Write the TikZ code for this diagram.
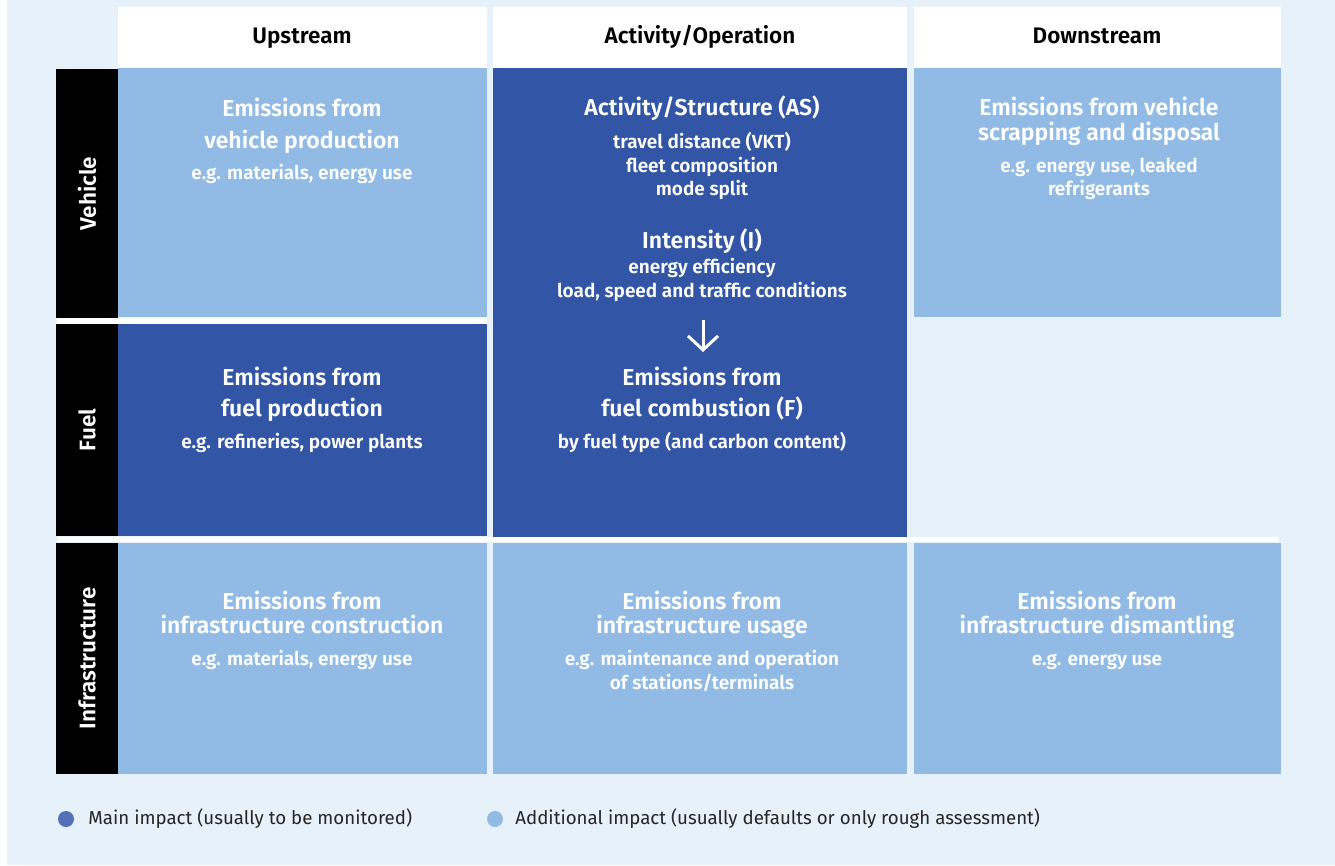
\documentclass[tikz,border=0pt]{standalone}
\usepackage{fontspec}
\setmainfont{Fira Sans}[BoldFont={Fira Sans SemiBold}]
\usetikzlibrary{positioning,arrows.meta}
\definecolor{bgblue}{HTML}{E7F1FA}
\definecolor{darkbox}{HTML}{3256A5}
\definecolor{lightbox}{HTML}{91BBE5}
\definecolor{maindot}{HTML}{5470B9}
\tikzset{
  cell/.style={anchor=north west, inner sep=0pt, outer sep=0pt},
  headcell/.style={cell, fill=white},
  rowcell/.style={cell, fill=black},
  maincell/.style={cell, fill=darkbox},
  addcell/.style={cell, fill=lightbox},
  headtext/.style={anchor=base, text=black, font=\bfseries\fontsize{22.5}{26}\selectfont},
  rowtext/.style={rotate=90, text=white, font=\bfseries\fontsize{22.5}{26}\selectfont},
  titletext/.style={anchor=base, text=white, font=\bfseries\fontsize{23}{26}\selectfont},
  notetext/.style={anchor=base, text=white, font=\bfseries\fontsize{19}{22}\selectfont},
  legdot/.style={circle, inner sep=0pt, minimum size=16pt},
  legtext/.style={anchor=west, inner sep=0pt, text=black!85, font=\fontsize{18.7}{22}\selectfont},
  flowarrow/.style={white, line width=3pt, -{Straight Barb[length=14pt, width=30pt, line width=3pt]}}
}
\begin{document}
\begin{tikzpicture}[x=1pt, y=-1pt]
  \useasboundingbox (0,0) rectangle (1335,865);
  \fill[bgblue] (7,0) rectangle (1335,865);
  % header row
  \node[headcell, minimum width=369pt, minimum height=61pt] (hup) at (118,7) {};
  \node[headcell, minimum width=414pt, minimum height=61pt] (hact) at (493,7) {};
  \node[headcell, minimum width=367pt, minimum height=61pt] (hdown) at (914,7) {};
  \node[headtext] (tup) at (302,43) {Upstream};
  \node[headtext] (tact) at (700,43) {Activity/Operation};
  \node[headtext] (tdown) at (1097,43) {Downstream};
  % row labels
  \node[rowcell, minimum width=62pt, minimum height=249pt] (rveh) at (56,69) {};
  \node[rowcell, minimum width=62pt, minimum height=212pt] (rfuel) at (56,324) {};
  \node[rowcell, minimum width=62pt, minimum height=231pt] (rinfra) at (56,543) {};
  \node[rowtext] (lveh) at (rveh.center) {Vehicle};
  \node[rowtext] (lfuel) at (rfuel.center) {Fuel};
  \node[rowtext] (linfra) at (rinfra.center) {Infrastructure};
  % cells
  \node[addcell, minimum width=369pt, minimum height=249pt] (vehup) at (118,68) {};
  \node[maincell, minimum width=369pt, minimum height=212pt] (fuelup) at (118,324) {};
  \node[maincell, minimum width=414pt, minimum height=469pt] (actop) at (493,68) {};
  \node[addcell, minimum width=367pt, minimum height=249pt] (vehdown) at (914,68) {};
  \node[addcell, minimum width=369pt, minimum height=231pt] (infraup) at (118,543) {};
  \node[addcell, minimum width=414pt, minimum height=231pt] (infraact) at (493,543) {};
  \node[addcell, minimum width=367pt, minimum height=231pt] (infradown) at (914,543) {};
  % white separators
  \fill[white] (57,318) rectangle (487,324);
  \fill[white] (57,537) rectangle (1279,542);
  % vehicle production
  \node[titletext] (vu1) at (302,116) {Emissions from};
  \node[titletext] (vu2) at (302,148) {vehicle production};
  \node[notetext] (vu3) at (302,179) {e.g. materials, energy use};
  % activity / operation
  \node[titletext] (as1) at (702,115) {Activity/Structure (AS)};
  \node[notetext] (as2) at (702,148) {travel distance (VKT)};
  \node[notetext] (as3) at (702,172) {fleet composition};
  \node[notetext] (as4) at (702,195) {mode split};
  \node[titletext] (in1) at (702,248) {Intensity (I)};
  \node[notetext] (in2) at (702,273) {energy efficiency};
  \node[notetext] (in3) at (702,297) {load, speed and traffic conditions};
  \coordinate (arrtop) at (703,320);
  \coordinate (arrbot) at (703,352);
  \draw[flowarrow] (arrtop) -- (arrbot);
  \node[titletext] (fc1) at (702,385) {Emissions from};
  \node[titletext] (fc2) at (702,416) {fuel combustion (F)};
  \node[notetext] (fc3) at (702,448) {by fuel type (and carbon content)};
  % vehicle disposal
  \node[titletext] (vd1) at (1099,115) {Emissions from vehicle};
  \node[titletext] (vd2) at (1099,140) {scrapping and disposal};
  \node[notetext] (vd3) at (1099,172) {e.g. energy use, leaked};
  \node[notetext] (vd4) at (1099,195) {refrigerants};
  % fuel production
  \node[titletext] (fu1) at (302,385) {Emissions from};
  \node[titletext] (fu2) at (302,416) {fuel production};
  \node[notetext] (fu3) at (302,448) {e.g. refineries, power plants};
  % infrastructure
  \node[titletext] (iu1) at (302,609) {Emissions from};
  \node[titletext] (iu2) at (302,633) {infrastructure construction};
  \node[notetext] (iu3) at (302,665) {e.g. materials, energy use};
  \node[titletext] (ia1) at (702,609) {Emissions from};
  \node[titletext] (ia2) at (702,633) {infrastructure usage};
  \node[notetext] (ia3) at (702,665) {e.g. maintenance and operation};
  \node[notetext] (ia4) at (702,689) {of stations/terminals};
  \node[titletext] (id1) at (1097,609) {Emissions from};
  \node[titletext] (id2) at (1097,633) {infrastructure dismantling};
  \node[notetext] (id3) at (1097,665) {e.g. energy use};
  % legend
  \node[legdot, fill=maindot] (dmain) at (66,819) {};
  \node[legtext, right=14pt of dmain] (lmain) {Main impact (usually to be monitored)};
  \node[legdot, fill=lightbox] (dadd) at (495,819) {};
  \node[legtext, right=12pt of dadd] (ladd) {Additional impact (usually defaults or only rough assessment)};
\end{tikzpicture}
\end{document}
